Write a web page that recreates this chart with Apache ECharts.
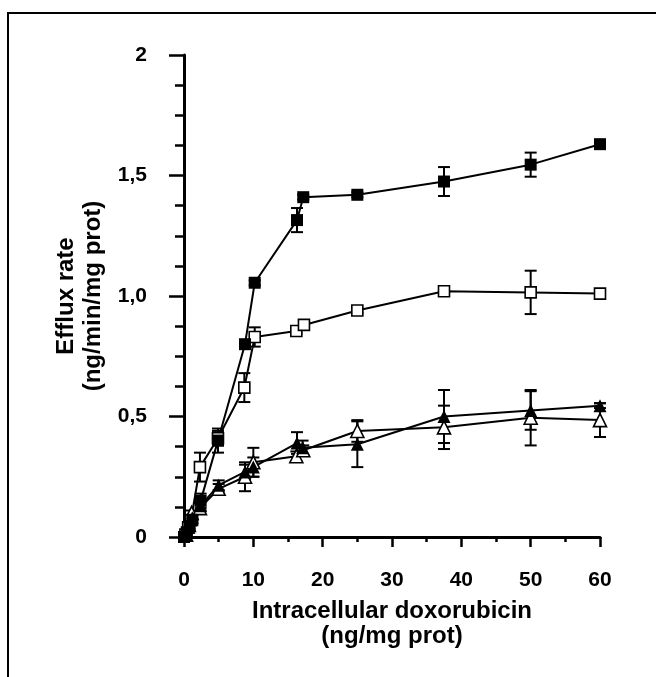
<!DOCTYPE html>
<html>
<head>
<meta charset="utf-8">
<script src="https://cdn.jsdelivr.net/npm/echarts@6/dist/echarts.min.js"></script>
<style>
  html, body { margin: 0; padding: 0; background: #fff; }
  #chart { width: 656px; height: 677px; }
</style>
</head>
<body>
<div id="chart"></div>
<script>
// filled squares
var sqFillX = [0, 0.4, 0.8, 1.2, 2.4, 4.9, 8.8, 10.2, 16.3, 17.2, 25, 37.5, 50, 60];
var sqFillY = [0, 0.02, 0.045, 0.07, 0.15, 0.40, 0.80, 1.055, 1.315, 1.41, 1.42, 1.475, 1.545, 1.63];
var sqFillErr = [0.005, 0.01, 0.01, 0.01, 0.03, 0.05, 0.015, 0.01, 0.05, 0.01, 0.01, 0.06, 0.05, 0.01];

// open squares
var sqOpenX = [0.2, 0.6, 1.0, 2.3, 4.9, 8.7, 10.2, 16.2, 17.3, 25, 37.5, 50, 60];
var sqOpenY = [0.01, 0.04, 0.07, 0.29, 0.41, 0.62, 0.83, 0.855, 0.88, 0.94, 1.02, 1.015, 1.01];
var sqOpenErr = [0.005, 0.01, 0.01, 0.06, 0.03, 0.06, 0.04, 0.01, 0.02, 0.01, 0.01, 0.09, 0.01];

// filled triangles
var trFillX = [0.3, 0.7, 1.2, 2.4, 5, 8.8, 10, 16.3, 17.1, 25, 37.5, 50, 60];
var trFillY = [0.01, 0.04, 0.08, 0.13, 0.215, 0.27, 0.29, 0.39, 0.37, 0.385, 0.50, 0.525, 0.545];
var trFillErr = [0.005, 0.01, 0.01, 0.02, 0.02, 0.03, 0.04, 0.045, 0.03, 0.095, 0.11, 0.08, 0.01];

// open triangles
var trOpenX = [0.3, 0.7, 1.1, 2.3, 5, 8.8, 10, 16.2, 17.2, 25, 37.5, 50, 60];
var trOpenY = [0.01, 0.05, 0.10, 0.12, 0.20, 0.25, 0.31, 0.335, 0.36, 0.44, 0.455, 0.495, 0.485];
var trOpenErr = [0.005, 0.01, 0.01, 0.02, 0.02, 0.06, 0.06, 0.02, 0.02, 0.045, 0.09, 0.115, 0.07];

var yTickLabels = ["0", "0,5", "1,0", "1,5", "2"];

var FONT = "'Liberation Sans', Arial, sans-serif";

function pairs(xs, ys) {
  return xs.map(function (x, i) { return [x, ys[i]]; });
}

function lineSeries(xs, ys, symbol, size, open) {
  return {
    type: "line",
    data: pairs(xs, ys),
    symbol: symbol,
    symbolSize: size,
    z: 3,
    lineStyle: { color: "#000", width: 2 },
    itemStyle: open
      ? { color: "#fff", borderColor: "#000", borderWidth: 1.6 }
      : { color: "#000", borderColor: "#000", borderWidth: 0 }
  };
}

function errorBars(xs, ys, es) {
  return {
    type: "custom",
    silent: true,
    z: 2,
    encode: { x: 0, y: 1 },
    data: xs.map(function (x, i) { return [x, ys[i], es[i]]; }),
    renderItem: function (params, api) {
      var x = api.value(0), y = api.value(1), e = api.value(2);
      var hi = api.coord([x, y + e]);
      var lo = api.coord([x, y - e]);
      var w = 6;
      var st = { stroke: "#000", lineWidth: 2 };
      return {
        type: "group",
        children: [
          { type: "line", shape: { x1: hi[0], y1: hi[1], x2: lo[0], y2: lo[1] }, style: st },
          { type: "line", shape: { x1: hi[0] - w, y1: hi[1], x2: hi[0] + w, y2: hi[1] }, style: st },
          { type: "line", shape: { x1: lo[0] - w, y1: lo[1], x2: lo[0] + w, y2: lo[1] }, style: st }
        ]
      };
    }
  };
}

var chart = echarts.init(document.getElementById("chart"));
var options = {
  animation: false,
  backgroundColor: "#fff",
  grid: { left: 184, right: 56, top: 55, bottom: 140 },
  graphic: [
    {
      type: "rect",
      shape: { x: 8, y: 13, width: 700, height: 700 },
      style: { fill: "none", stroke: "#000", lineWidth: 2 }
    }
  ],
  xAxis: {
    type: "value",
    min: 0,
    max: 60,
    interval: 10,
    offset: 16,
    splitLine: { show: false },
    axisLine: { lineStyle: { color: "#000", width: 3 } },
    axisTick: { length: 10, lineStyle: { color: "#000", width: 2.5 } },
    minorTick: { show: true, splitNumber: 2, length: 5, lineStyle: { color: "#000", width: 2.5 } },
    axisLabel: { color: "#000", fontSize: 21, fontWeight: "bold", fontFamily: FONT, margin: 17 },
    name: "Intracellular doxorubicin\n(ng/mg prot)",
    nameLocation: "middle",
    nameGap: 46,
    nameTextStyle: { color: "#000", fontSize: 24, fontWeight: "bold", fontFamily: FONT, lineHeight: 25 }
  },
  yAxis: {
    type: "value",
    min: 0,
    max: 2,
    interval: 0.5,
    offset: 16,
    splitLine: { show: false },
    axisLine: { lineStyle: { color: "#000", width: 3 } },
    axisTick: { length: 15, lineStyle: { color: "#000", width: 2.5 } },
    minorTick: { show: true, splitNumber: 4, length: 9, lineStyle: { color: "#000", width: 2.5 } },
    axisLabel: {
      color: "#000", fontSize: 21, fontWeight: "bold", fontFamily: FONT, margin: 21,
      formatter: function (v) { return yTickLabels[Math.round(v / 0.5)]; }
    },
    name: "Efflux rate\n(ng/min/mg prot)",
    nameLocation: "middle",
    nameGap: 53,
    nameTextStyle: { color: "#000", fontSize: 24, fontWeight: "bold", fontFamily: FONT, lineHeight: 27 }
  },
  series: [
    errorBars(sqFillX, sqFillY, sqFillErr),
    errorBars(sqOpenX, sqOpenY, sqOpenErr),
    errorBars(trFillX, trFillY, trFillErr),
    errorBars(trOpenX, trOpenY, trOpenErr),
    lineSeries(trOpenX, trOpenY, "triangle", 13, true),
    lineSeries(trFillX, trFillY, "triangle", 13, false),
    lineSeries(sqOpenX, sqOpenY, "rect", 11, true),
    lineSeries(sqFillX, sqFillY, "rect", 12, false)
  ]
};
chart.setOption(options);
</script>
</body>
</html>
